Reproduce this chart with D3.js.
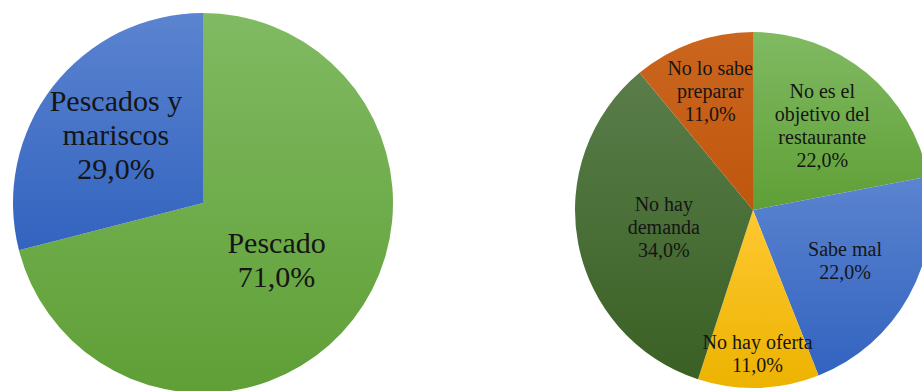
<!DOCTYPE html>
<html>
<head>
<meta charset="utf-8">
<script src="https://cdn.jsdelivr.net/npm/d3@7"></script>
<style>
  html, body { margin: 0; padding: 0; background: #ffffff; }
  svg { display: block; }
</style>
</head>
<body>
<svg id="chart" width="922" height="391"></svg>
<script>
// ---- data: left pie ----
const leftCategories = ["Pescado", "Pescados y mariscos"];
const leftValues = [71.0, 29.0];
const leftLabelLines = [["Pescado"], ["Pescados y", "mariscos"]];

// ---- data: right pie ----
const rightCategories = ["No es el objetivo del restaurante", "Sabe mal", "No hay oferta", "No hay demanda", "No lo sabe preparar"];
const rightValues = [22.0, 22.0, 11.0, 34.0, 11.0];
const rightLabelLines = [["No es el", "objetivo del", "restaurante"], ["Sabe mal"], ["No hay oferta"], ["No hay", "demanda"], ["No lo sabe", "preparar"]];

// ---- styles / layout (not data) ----
const leftColors = [["#80ba62", "#5f9f36"], ["#5b84d0", "#3263bf"]];
const rightColors = [["#80ba62", "#5f9f36"], ["#5b84d0", "#3263bf"], ["#ffc832", "#ecb300"], ["#5a7d4a", "#3a6024"], ["#cb661e", "#c0560e"]];
const leftLabelRadius = [0.49, 0.58];
const rightLabelRadius = [0.61, 0.59, 0.81, 0.51, 0.71];

const svg = d3.select("#chart");
const defs = svg.append("defs");
const fmt = v => d3.format(".1f")(v).replace(".", ",") + "%";

function drawPie(opts) {
  const { cx, cy, r, values, lines, colors, labelR, fontSize, lineH, id } = opts;
  const pie = d3.pie().sort(null).value(d => d)(values);
  const arc = d3.arc().innerRadius(0).outerRadius(r);
  colors.forEach((c, i) => {
    const g = defs.append("linearGradient").attr("id", id + "g" + i)
      .attr("x1", 0).attr("y1", 0).attr("x2", 0).attr("y2", 1);
    g.append("stop").attr("offset", "0%").attr("stop-color", c[0]);
    g.append("stop").attr("offset", "100%").attr("stop-color", c[1]);
  });
  const grp = svg.append("g").attr("transform", `translate(${cx},${cy})`);
  grp.selectAll("path").data(pie).join("path")
    .attr("d", arc)
    .attr("fill", (d, i) => `url(#${id}g${i})`);
  pie.forEach((d, i) => {
    const lr = labelR[i] * r;
    const c = d3.arc().innerRadius(lr).outerRadius(lr).centroid(d);
    const all = lines[i].concat([fmt(values[i])]);
    const n = all.length;
    all.forEach((s, k) => {
      grp.append("text")
        .style("font-family", '"Liberation Serif"')
        .style("font-size", fontSize + "px")
        .attr("fill", "#151515")
        .attr("text-anchor", "middle")
        .attr("x", c[0])
        .attr("y", c[1] + (k - (n - 1) / 2) * lineH + fontSize * 0.33)
        .text(s);
    });
  });
}

drawPie({ cx: 203, cy: 203, r: 190, values: leftValues, lines: leftLabelLines, colors: leftColors,
  labelR: leftLabelRadius, fontSize: 30, lineH: 34, id: "L" });
drawPie({ cx: 753, cy: 210, r: 178, values: rightValues, lines: rightLabelLines, colors: rightColors,
  labelR: rightLabelRadius, fontSize: 20, lineH: 23, id: "R" });
</script>
</body>
</html>
